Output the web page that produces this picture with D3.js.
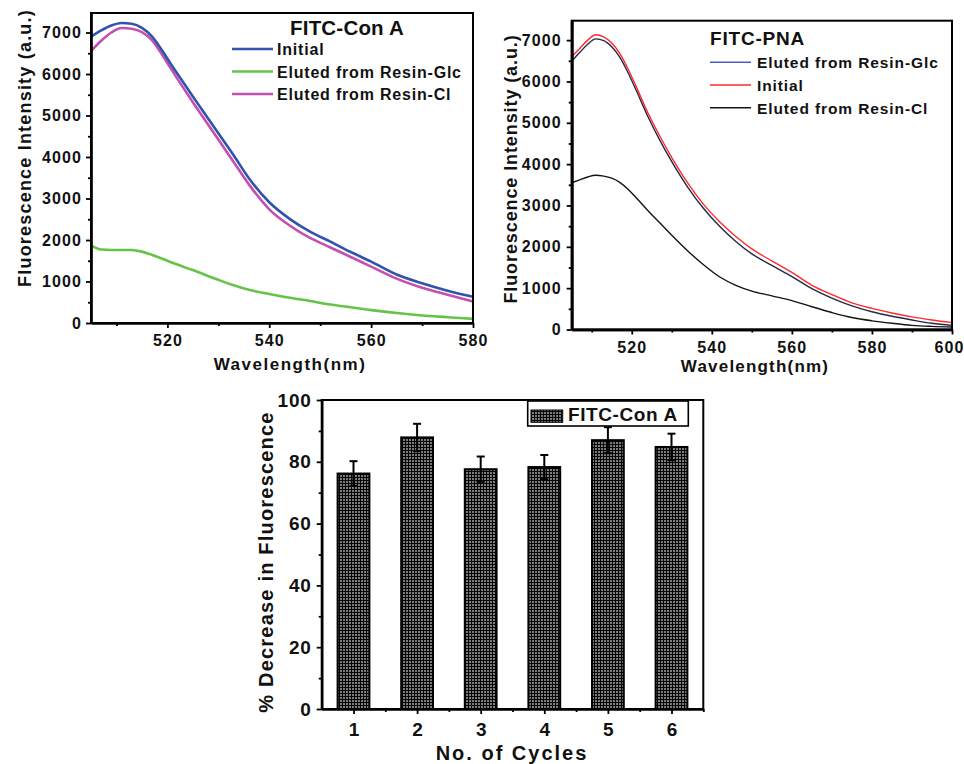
<!DOCTYPE html>
<html>
<head>
<meta charset="utf-8">
<script src="https://cdn.jsdelivr.net/npm/d3@7"></script>
<style>
  body { margin: 0; background: #fff; }
  svg { display: block; font-family: "Liberation Sans", Arial, sans-serif; font-weight: bold; }
  .tick text { fill: #111; font-weight: bold; }
</style>
</head>
<body>
<svg id="fig" width="964" height="764"></svg>
<script>
// ---- FITC-Con A emission spectra ----
const conAWavelength = [505, 507, 509, 511, 513, 515, 517, 519, 521, 523, 525, 527, 530, 533, 536, 540, 544, 548, 552, 556, 560, 565, 570, 575, 580];
const conAInitial = [6900, 7050, 7170, 7230, 7210, 7110, 6900, 6560, 6180, 5820, 5460, 5100, 4570, 4040, 3490, 2910, 2510, 2200, 1960, 1710, 1480, 1170, 960, 780, 630];
const conAGlc     = [1870, 1770, 1760, 1760, 1760, 1720, 1640, 1550, 1450, 1360, 1275, 1180, 1040, 910, 800, 700, 610, 530, 445, 380, 310, 240, 180, 140, 100];
const conACl      = [6550, 6800, 7000, 7110, 7090, 7010, 6810, 6460, 6070, 5690, 5320, 4960, 4420, 3880, 3340, 2740, 2350, 2050, 1820, 1590, 1360, 1070, 850, 680, 520];
const conANames   = ["Initial", "Eluted from Resin-Glc", "Eluted from Resin-Cl"];

// ---- FITC-PNA emission spectra ----
const pnaWavelength = [505, 507, 509, 511, 513, 515, 517, 519, 521, 524, 527, 530, 534, 538, 542, 546, 550, 555, 560, 565, 570, 575, 580, 585, 590, 595, 600];
const pnaGlc     = [6490, 6700, 6900, 7030, 6990, 6840, 6590, 6230, 5810, 5160, 4580, 4060, 3440, 2920, 2490, 2130, 1830, 1550, 1280, 990, 760, 570, 430, 320, 230, 150, 100];
const pnaInitial = [6600, 6800, 7000, 7130, 7080, 6930, 6680, 6320, 5900, 5250, 4680, 4160, 3540, 3020, 2600, 2250, 1950, 1660, 1380, 1070, 845, 645, 510, 400, 305, 230, 165];
const pnaCl      = [3550, 3620, 3690, 3730, 3710, 3660, 3560, 3400, 3200, 2880, 2580, 2280, 1900, 1560, 1270, 1070, 930, 815, 700, 550, 410, 290, 210, 150, 100, 75, 60];
const pnaNames   = ["Eluted from Resin-Glc", "Initial", "Eluted from Resin-Cl"];

// ---- Recycling of the resin ----
const cycles      = [1, 2, 3, 4, 5, 6];
const decrease    = [76.2, 87.9, 77.6, 78.3, 87.0, 84.8];
const decreaseErr = [4.0, 4.4, 4.1, 3.9, 4.2, 4.3];

// tick labels
const intensityTicks = [0, 1000, 2000, 3000, 4000, 5000, 6000, 7000];
const conAWlTicks = [520, 540, 560, 580];
const pnaWlTicks  = [520, 540, 560, 580, 600];
const pctTicks    = [0, 20, 40, 60, 80, 100];

const svg = d3.select("#fig");

// crosshatch fill used by the bars
const defs = svg.append("defs");
const pat = defs.append("pattern").attr("id", "hatch")
  .attr("patternUnits", "userSpaceOnUse").attr("width", 3).attr("height", 3);
pat.append("rect").attr("width", 3).attr("height", 3).attr("fill", "#050505");
pat.append("rect").attr("x", 1).attr("y", 1).attr("width", 2).attr("height", 2).attr("fill", "#7c7c7c");

function styleAxis(g, width, fontSize, spacing) {
  g.select(".domain").attr("stroke", "#000").attr("stroke-width", width);
  g.selectAll(".tick line").attr("stroke", "#000").attr("stroke-width", 1.8);
  g.selectAll(".tick text").attr("font-size", fontSize).attr("letter-spacing", spacing)
    .attr("font-family", "'Liberation Sans', Arial, sans-serif");
}

function spectrumPanel(cfg) {
  const g = svg.append("g");
  const x = d3.scaleLinear().domain(cfg.xDomain).range([cfg.left, cfg.right]);
  const y = d3.scaleLinear().domain([0, cfg.yMax]).range([cfg.bottom, cfg.top]);

  const line = d3.line()
    .x((d, i) => x(cfg.wavelength[i]))
    .y(d => y(d))
    .curve(d3.curveMonotoneX);

  cfg.drawOrder.forEach(k => {
    const s = cfg.series[k];
    g.append("path").attr("d", line(s.values))
      .attr("fill", "none").attr("stroke", s.color).attr("stroke-width", s.width)
      .attr("stroke-linejoin", "round");
  });

  // frame
  g.append("rect").attr("x", cfg.left).attr("y", cfg.top)
    .attr("width", cfg.right - cfg.left).attr("height", cfg.bottom - cfg.top)
    .attr("fill", "none").attr("stroke", "#000").attr("stroke-width", cfg.frameWidth);

  // minor ticks
  const minorX = d3.range(cfg.xDomain[0] + 5, cfg.xDomain[1], 20);
  g.append("g").attr("transform", `translate(0,${cfg.bottom})`)
    .call(d3.axisBottom(x).tickValues(minorX).tickSize(3).tickSizeOuter(0).tickFormat(""))
    .call(a => styleAxis(a, cfg.axisWidth, 0, 0));
  g.append("g").attr("transform", `translate(${cfg.left},0)`)
    .call(d3.axisLeft(y).tickValues(d3.range(500, cfg.yMax, 1000)).tickSize(3).tickSizeOuter(0).tickFormat(""))
    .call(a => styleAxis(a, cfg.axisWidth, 0, 0));

  // major ticks
  const xa = g.append("g").attr("transform", `translate(0,${cfg.bottom})`)
    .call(d3.axisBottom(x).tickValues(cfg.xTicks).tickSize(5).tickSizeOuter(0).tickPadding(cfg.xPad).tickFormat(d3.format("d")))
    .call(a => styleAxis(a, cfg.axisWidth, cfg.tickFont, cfg.tickSpacing));
  // keep the label at the right edge inside the figure
  xa.selectAll(".tick text").filter(d => d === cfg.xDomain[1]).attr("dx", cfg.lastDx || 0);
  g.append("g").attr("transform", `translate(${cfg.left},0)`)
    .call(d3.axisLeft(y).tickValues(intensityTicks).tickSize(5).tickSizeOuter(0).tickPadding(cfg.yPad).tickFormat(d3.format("d")))
    .call(a => styleAxis(a, cfg.axisWidth, cfg.tickFont, cfg.tickSpacing));

  // axis titles
  g.append("text").attr("text-anchor", "middle")
    .attr("transform", `translate(${cfg.yTitle[0]},${cfg.yTitle[1]}) rotate(-90)`)
    .attr("font-size", 18).attr("letter-spacing", cfg.yTitleSpacing).attr("fill", "#111")
    .text("Fluorescence Intensity (a.u.)");
  g.append("text").attr("text-anchor", "middle")
    .attr("x", cfg.xTitle[0]).attr("y", cfg.xTitle[1])
    .attr("font-size", 17).attr("letter-spacing", cfg.xTitleSpacing).attr("fill", "#111")
    .text("Wavelength(nm)");

  // legend
  const L = cfg.legend;
  g.append("text").attr("x", L.titleX).attr("y", L.titleY)
    .attr("text-anchor", L.titleAnchor).attr("font-size", L.titleSize)
    .attr("letter-spacing", L.titleSpacing).attr("fill", "#111").text(L.title);
  cfg.series.forEach((s, i) => {
    const ry = L.rowY + i * L.rowStep;
    g.append("line").attr("x1", L.lineX0).attr("x2", L.lineX1).attr("y1", ry).attr("y2", ry)
      .attr("stroke", s.legendColor || s.color).attr("stroke-width", L.lineWidth);
    g.append("text").attr("x", L.textX).attr("y", ry + 6)
      .attr("font-size", L.textSize).attr("letter-spacing", L.textSpacing)
      .attr("fill", "#111").text(s.name);
  });
}

spectrumPanel({
  left: 91, right: 473, top: 13, bottom: 323,
  xDomain: [505, 580], yMax: 7470,
  wavelength: conAWavelength,
  series: [
    { name: conANames[0], values: conAInitial, color: "#3152ae", width: 2.6 },
    { name: conANames[1], values: conAGlc, color: "#64c446", width: 2.6 },
    { name: conANames[2], values: conACl, color: "#c44fae", width: 2.6 }
  ],
  drawOrder: [1, 2, 0],
  frameWidth: 2, axisWidth: 2.2,
  xTicks: conAWlTicks, xPad: 7, yPad: 4, tickFont: 16, tickSpacing: 1.1,
  yTitle: [31, 148], xTitle: [290, 370], yTitleSpacing: 1.2, xTitleSpacing: 1.5,
  legend: {
    title: "FITC-Con A", titleX: 347, titleY: 35, titleAnchor: "middle", titleSize: 20.5, titleSpacing: 0.2,
    rowY: 49, rowStep: 22.5, lineX0: 232, lineX1: 273, lineWidth: 2.6,
    textX: 277, textSize: 16, textSpacing: 0.8
  }
});

spectrumPanel({
  left: 571.7, right: 952, top: 20.7, bottom: 329.5,
  xDomain: [505, 600], yMax: 7470,
  wavelength: pnaWavelength,
  series: [
    { name: pnaNames[0], values: pnaGlc, color: "#26264a", legendColor: "#4a5cc4", width: 1.4 },
    { name: pnaNames[1], values: pnaInitial, color: "#ff2a2a", width: 1.4 },
    { name: pnaNames[2], values: pnaCl, color: "#141414", width: 1.4 }
  ],
  drawOrder: [0, 2, 1],
  frameWidth: 2, axisWidth: 2.6,
  xTicks: pnaWlTicks, xPad: 7, yPad: 5, tickFont: 16, tickSpacing: 1.1, lastDx: -3,
  yTitle: [517, 169], xTitle: [755, 372], yTitleSpacing: 0.9, xTitleSpacing: 1.2,
  legend: {
    title: "FITC-PNA", titleX: 710, titleY: 45, titleAnchor: "start", titleSize: 19, titleSpacing: 0.8,
    rowY: 62.3, rowStep: 22.7, lineX0: 710, lineX1: 751, lineWidth: 1.4,
    textX: 757, textSize: 15.5, textSpacing: 0.9
  }
});

// ---- bar chart: % decrease over repeated cycles ----
(function () {
  const left = 321.7, right = 703.3, top = 400, bottom = 709;
  const g = svg.append("g");
  const x = d3.scaleLinear().domain([0.5, 6.5]).range([left, right]);
  const y = d3.scaleLinear().domain([0, 100]).range([bottom, top]);
  const half = 0.25;

  g.selectAll("rect.bar").data(cycles).join("rect").attr("class", "bar")
    .attr("x", d => x(d - half)).attr("width", x(1 + half) - x(1 - half))
    .attr("y", (d, i) => y(decrease[i])).attr("height", (d, i) => y(0) - y(decrease[i]))
    .attr("fill", "url(#hatch)").attr("stroke", "#000").attr("stroke-width", 2);

  // error bars
  const eb = g.selectAll("g.err").data(cycles).join("g").attr("class", "err");
  eb.append("line").attr("x1", d => x(d)).attr("x2", d => x(d))
    .attr("y1", (d, i) => y(decrease[i] - decreaseErr[i])).attr("y2", (d, i) => y(decrease[i] + decreaseErr[i]))
    .attr("stroke", "#000").attr("stroke-width", 2);
  eb.append("line").attr("x1", d => x(d) - 4).attr("x2", d => x(d) + 4)
    .attr("y1", (d, i) => y(decrease[i] + decreaseErr[i])).attr("y2", (d, i) => y(decrease[i] + decreaseErr[i]))
    .attr("stroke", "#000").attr("stroke-width", 2);
  eb.append("line").attr("x1", d => x(d) - 4).attr("x2", d => x(d) + 4)
    .attr("y1", (d, i) => y(decrease[i] - decreaseErr[i])).attr("y2", (d, i) => y(decrease[i] - decreaseErr[i]))
    .attr("stroke", "#000").attr("stroke-width", 2);

  // frame
  g.append("rect").attr("x", left).attr("y", top).attr("width", right - left).attr("height", bottom - top)
    .attr("fill", "none").attr("stroke", "#000").attr("stroke-width", 2);

  // ticks
  g.append("g").attr("transform", `translate(0,${bottom})`)
    .call(d3.axisBottom(x).tickValues(d3.range(1.5, 7, 1)).tickSize(3).tickSizeOuter(0).tickFormat(""))
    .call(a => styleAxis(a, 2.2, 0, 0));
  g.append("g").attr("transform", `translate(${left},0)`)
    .call(d3.axisLeft(y).tickValues(d3.range(10, 100, 20)).tickSize(3).tickSizeOuter(0).tickFormat(""))
    .call(a => styleAxis(a, 2.2, 0, 0));
  g.append("g").attr("transform", `translate(0,${bottom})`)
    .call(d3.axisBottom(x).tickValues(cycles).tickSize(5).tickSizeOuter(0).tickPadding(9).tickFormat(d3.format("d")))
    .call(a => styleAxis(a, 2.2, 19, 0));
  g.append("g").attr("transform", `translate(${left},0)`)
    .call(d3.axisLeft(y).tickValues(pctTicks).tickSize(5).tickSizeOuter(0).tickPadding(5).tickFormat(d3.format("d")))
    .call(a => styleAxis(a, 2.2, 19, 0.8));

  g.append("text").attr("text-anchor", "middle")
    .attr("transform", "translate(273,562) rotate(-90)")
    .attr("font-size", 20).attr("letter-spacing", 1.2).attr("fill", "#111")
    .text("% Decrease in Fluorescence");
  g.append("text").attr("text-anchor", "middle").attr("x", 512).attr("y", 760)
    .attr("font-size", 20).attr("letter-spacing", 2).attr("fill", "#111")
    .text("No. of Cycles");

  // legend
  g.append("rect").attr("x", 527.7).attr("y", 401).attr("width", 160.6).attr("height", 25)
    .attr("fill", "#fff").attr("stroke", "#000").attr("stroke-width", 1.6);
  g.append("rect").attr("x", 531).attr("y", 410).attr("width", 31.7).attr("height", 12.3)
    .attr("fill", "url(#hatch)").attr("stroke", "#000").attr("stroke-width", 1);
  g.append("text").attr("x", 568).attr("y", 420.5).attr("font-size", 19).attr("letter-spacing", 0.6)
    .attr("fill", "#111").text("FITC-Con A");
})();
</script>
</body>
</html>
